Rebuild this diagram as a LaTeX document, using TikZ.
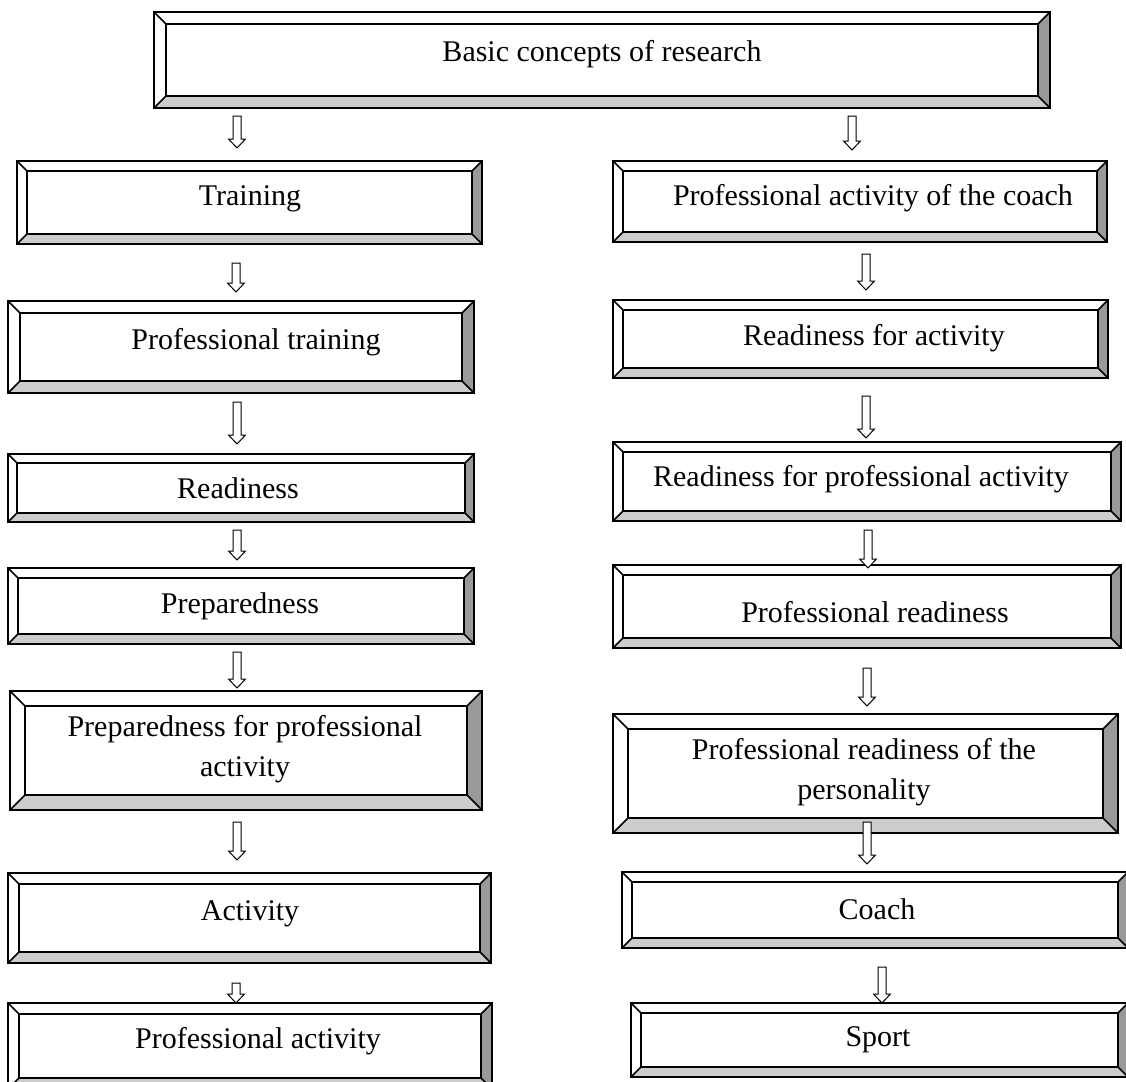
\documentclass[tikz,border=0pt]{standalone}
\usepackage{fontspec}
\setmainfont{Liberation Serif}
\definecolor{bevlight}{HTML}{CCCCCC}
\definecolor{bevdark}{HTML}{999999}
\tikzset{
  boxline/.style={draw=black, line width=0.75pt, line join=miter},
  boxtext/.style={font=\fontsize{15}{20}\selectfont, align=center, inner sep=0pt},
  blockarrow/.style={draw=black, fill=white, line width=0.5pt, line join=miter}
}
% #1 name, #2 x1, #3 y1, #4 x2, #5 y2, #6 bevel, #7 text x, #8 text y, #9 text
\newcommand\bevelbox[9]{%
  \fill[white] (#2,#3) rectangle (#4,#5);
  \fill[bevlight] (#2,#5) -- ({#2+#6},{#5-#6}) -- ({#4-#6},{#5-#6}) -- (#4,#5) -- cycle;
  \fill[bevdark] (#4,#3) -- ({#4-#6},{#3+#6}) -- ({#4-#6},{#5-#6}) -- (#4,#5) -- cycle;
  \draw[boxline] (#2,#3) rectangle (#4,#5);
  \draw[boxline] ({#2+#6},{#3+#6}) rectangle ({#4-#6},{#5-#6});
  \draw[boxline] (#2,#3) -- ({#2+#6},{#3+#6});
  \draw[boxline] (#4,#3) -- ({#4-#6},{#3+#6});
  \draw[boxline] (#2,#5) -- ({#2+#6},{#5-#6});
  \draw[boxline] (#4,#5) -- ({#4-#6},{#5-#6});
  \node[boxtext] (#1) at (#7,#8) {#9};
}
% #1 x, #2 top y, #3 bottom y
\newcommand\downblock[3]{%
  \draw[blockarrow] ({#1-4},#2) -- ({#1+4},#2) -- ({#1+4},{#3-9}) -- ({#1+8.5},{#3-9})
    -- (#1,#3) -- ({#1-8.5},{#3-9}) -- ({#1-4},{#3-9}) -- cycle;
}
\begin{document}
\begin{tikzpicture}[x=0.5pt,y=-0.5pt]
\useasboundingbox (0,0) rectangle (1126,1082);
\clip (0,0) rectangle (1126,1082);
\fill[white] (0,0) rectangle (1126,1082);
% top
\bevelbox{basic}{154}{12}{1050}{108}{12}{602}{54}{Basic concepts of research}
% left column
\bevelbox{training}{17}{161}{482}{244}{10}{250}{199}{Training}
\bevelbox{proftraining}{8}{301}{474}{393}{12}{256}{342}{Professional training}
\bevelbox{readiness}{8}{454}{474}{522}{9}{238}{488}{Readiness}
\bevelbox{preparedness}{8}{568}{474}{644}{10}{240}{606}{Preparedness}
\bevelbox{prepprof}{10}{691}{482}{810}{15}{245}{749}{Preparedness for professional\\activity}
\bevelbox{activity}{8}{873}{491}{963}{11}{250}{914}{Activity}
\bevelbox{profactivity}{8}{1003}{492}{1089}{11}{258}{1041}{Professional activity}
% right column
\bevelbox{coachact}{613}{161}{1107}{242}{10}{873}{198}{Professional activity of the coach}
\bevelbox{readyact}{613}{300}{1108}{378}{10}{874}{338}{Readiness for activity}
\bevelbox{readyprof}{613}{442}{1121}{521}{10}{861}{479}{Readiness for professional activity}
\bevelbox{profready}{613}{565}{1121}{648}{10}{875}{612}{Professional readiness}
\bevelbox{profreadypers}{613}{714}{1118}{833}{15}{864}{772}{Professional readiness of the\\personality}
\bevelbox{coach}{622}{872}{1128}{948}{10}{877}{909}{Coach}
\bevelbox{sport}{631}{1003}{1128}{1077}{10}{878}{1040}{Sport}
% arrows
\downblock{237}{116}{148}
\downblock{852}{116}{150}
\downblock{236}{263}{292}
\downblock{237}{402}{444}
\downblock{237}{530}{560}
\downblock{237}{652}{688}
\downblock{237}{822}{860}
\downblock{236}{983}{1003}
\downblock{866}{254}{290}
\downblock{866}{396}{438}
\downblock{868}{530}{568}
\downblock{867}{668}{706}
\downblock{867}{822}{864}
\downblock{882}{967}{1003}
\end{tikzpicture}
\end{document}
